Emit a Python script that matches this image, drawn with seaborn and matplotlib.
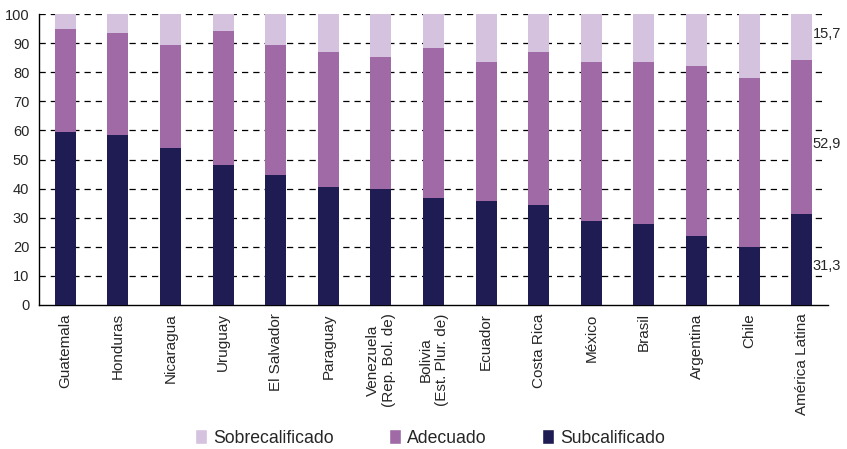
import numpy as np
import pandas as pd
import matplotlib
matplotlib.use("Agg")
import matplotlib.pyplot as plt
import seaborn as sns
from matplotlib.patches import Patch

categories = ["Guatemala", "Honduras", "Nicaragua", "Uruguay", "El Salvador", "Paraguay",
              "Venezuela\n(Rep. Bol. de)", "Bolivia\n(Est. Plur. de)", "Ecuador", "Costa Rica",
              "México", "Brasil", "Argentina", "Chile", "América Latina"]
subcalificado = [59.4, 58.5, 53.8, 48.2, 44.8, 40.7, 40.0, 36.8, 35.9, 34.3, 28.7, 28.0, 23.8, 19.8, 31.3]
adecuado = [35.5, 34.9, 35.6, 46.1, 44.6, 46.2, 45.3, 51.6, 47.7, 52.7, 54.9, 55.6, 58.3, 58.3, 52.9]
sobrecalificado = [5.1, 6.6, 10.6, 5.7, 10.6, 13.1, 14.7, 11.6, 16.4, 13.0, 16.4, 16.4, 17.9, 21.9, 15.7]
series_names = ["Sobrecalificado", "Adecuado", "Subcalificado"]
yticks = list(range(0, 101, 10))

c_sobre = "#d5c2de"
c_adec = "#a06aa6"
c_sub = "#1e1c52"

sns.set_style("white")
plt.rcParams['font.family'] = ['Liberation Sans', 'DejaVu Sans']

df = pd.DataFrame({"cat": categories, "sub": subcalificado, "adec": adecuado, "sobre": sobrecalificado})
df["cum2"] = df["sub"] + df["adec"]
df["cum3"] = df["cum2"] + df["sobre"]

fig = plt.figure(figsize=(8.47, 4.49), dpi=100)
ax = fig.add_axes([39/847, 1-305/449, (828-39)/847, (305-14)/449])

w = 0.40
for col, c in [("cum3", c_sobre), ("cum2", c_adec), ("sub", c_sub)]:
    sns.barplot(data=df, x="cat", y=col, color=c, width=w, ax=ax, saturation=1,
                zorder=3, linewidth=0, edgecolor="none")

ax.set_ylim(0, 100)
ax.set_xlim(-0.5, len(categories) - 0.5)
ax.set_yticks(yticks)
ax.set_yticklabels([str(t) for t in yticks], fontsize=10.5)
ax.set_xlabel("")
ax.set_ylabel("")

for y in yticks[1:]:
    ax.axhline(y, xmax=0.993, color="black", lw=0.9, ls=(0, (5, 4)), zorder=1)

ax.set_xticks(range(len(categories)))
ax.set_xticklabels(categories, rotation=90, fontsize=11, ha="center", va="top", multialignment="center")
ax.tick_params(axis="x", which="major", length=0, pad=6)
ax.set_xticks(np.arange(-0.5, len(categories), 1), minor=True)
ax.tick_params(axis="x", which="minor", length=7, width=0.9, color="black", direction="out")
ax.tick_params(axis="y", length=5, width=0.9, color="black", direction="out", pad=2)

for s in ["top", "right"]:
    ax.spines[s].set_visible(False)
for s in ["left", "bottom"]:
    ax.spines[s].set_color("black")
    ax.spines[s].set_linewidth(1.0)

# labels for América Latina
i = len(categories) - 1
vals = [(subcalificado[i] / 2 - 2.2, subcalificado[i]),
        (subcalificado[i] + adecuado[i] / 2 - 2.5, adecuado[i]),
        (subcalificado[i] + adecuado[i] + sobrecalificado[i] / 2 + 1.2, sobrecalificado[i])]
for ypos, v in vals:
    ax.text(i + 0.21, ypos, f"{v:.1f}".replace(".", ","), fontsize=10.5, va="center", ha="left",
            clip_on=False, zorder=5)

handles = [Patch(facecolor=c_sobre, label=series_names[0]),
           Patch(facecolor=c_adec, label=series_names[1]),
           Patch(facecolor=c_sub, label=series_names[2])]
fig.legend(handles=handles, loc="center", bbox_to_anchor=(430/847, 1 - 438/449), ncol=3,
           frameon=False, fontsize=12.7, handlelength=0.7, handleheight=0.9,
           handletextpad=0.35, columnspacing=3.1)

fig.savefig("out.png", dpi=100)
